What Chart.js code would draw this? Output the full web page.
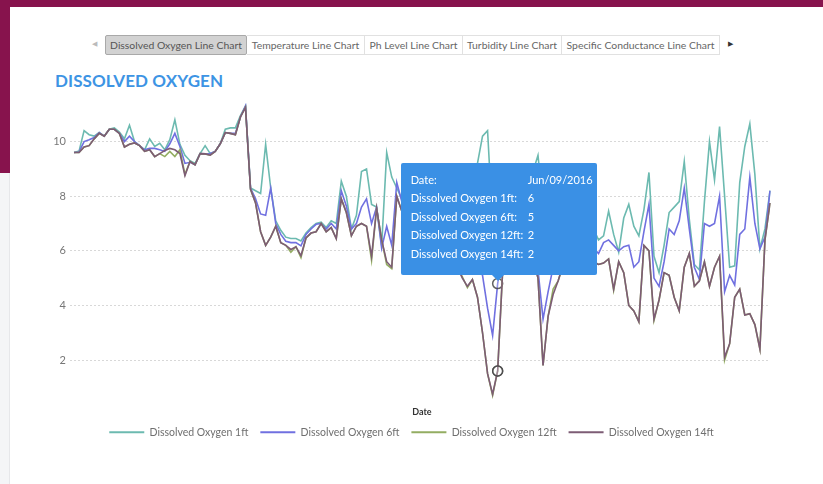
<!DOCTYPE html>
<html><head><meta charset="utf-8">
<script src="https://cdn.jsdelivr.net/npm/chart.js@4.4.0/dist/chart.umd.min.js"></script>
<style>
html,body{margin:0;padding:0;width:823px;height:484px;overflow:hidden;background:#fff;font-family:Lato,"Open Sans",sans-serif;}
#topband{position:absolute;left:0;top:0;width:823px;height:7px;background:#87134d;}
#leftband{position:absolute;left:0;top:0;width:10px;height:173px;background:#87134d;}
#leftgray{position:absolute;left:0;top:173px;width:10px;height:311px;background:#f4f5f7;border-right:1px solid #e6e7ea;box-sizing:border-box;}
#tabs{position:absolute;left:105px;top:35px;height:20px;display:flex;}
.tab{box-sizing:border-box;height:20px;line-height:18px;font-size:10.4px;color:#666;text-align:center;border:1px solid #e1e1e1;border-left:none;background:#fff;white-space:nowrap;}
.tab.active{background:#d2d2d2;border:1px solid #a9a9a9;border-radius:2px;color:#555;}
#larr{position:absolute;left:92px;top:39px;font-size:7px;color:#bbb;}
#rarr{position:absolute;left:728px;top:39px;font-size:7px;color:#333;}
#title{position:absolute;left:55px;top:70px;font-size:17px;font-weight:bold;color:#3d94e4;letter-spacing:0.1px;}
#wrap{position:absolute;left:0;top:90px;width:823px;height:358px;}
#tip{position:absolute;background:#3a90e5;color:#fff;font-size:11px;box-sizing:border-box;padding:8px 0 0 10px;border-radius:2px;}
#tip .row{height:18.5px;line-height:18.5px;position:relative;white-space:nowrap;}
#tip .v{position:absolute;left:117px;top:0;}
#caret{position:absolute;width:0;height:0;border-left:6px solid transparent;border-right:6px solid transparent;border-top:6px solid #3a90e5;}
</style></head>
<body>
<div id="topband"></div><div id="leftband"></div><div id="leftgray"></div>
<div id="larr">&#9664;</div>
<div id="tabs"></div>
<div id="rarr">&#9654;</div>
<div id="title">DISSOLVED OXYGEN</div>
<div id="wrap"><canvas id="c"></canvas></div>
<div id="tip"></div><div id="caret"></div>
<script>
const tabNames = ["Dissolved Oxygen Line Chart","Temperature Line Chart","Ph Level Line Chart","Turbidity Line Chart","Specific Conductance Line Chart"];
const tabWidths = [142,118,98,99,158];
const seriesNames = ["Dissolved Oxygen 1ft","Dissolved Oxygen 6ft","Dissolved Oxygen 12ft","Dissolved Oxygen 14ft"];
const seriesColors = ["#6cbab0","#7070e0","#93ad62","#7d5c75"];
const yTicks = [2,4,6,8,10];
const startDate = "2016-03-17";
const hoverIndex = 84;

const do1ft = [
9.6,9.65,10.4,10.25,10.2,10.33,10.2,10.45,10.5,10.35,
10.1,10.6,10.0,9.85,9.7,10.1,9.82,9.94,9.7,10.07,
10.8,9.9,9.5,9.3,9.2,9.56,9.85,9.56,9.64,9.92,
10.45,10.5,10.5,10.95,11.3,8.3,8.2,8.1,9.9,8.3,
7.1,6.75,6.5,6.45,6.45,6.36,6.65,6.85,7.0,7.05,
6.85,7.1,7.0,8.55,8.0,6.8,7.3,8.9,9.0,7.7,
7.6,6.2,9.6,8.7,8.3,7.9,7.4,7.0,7.6,6.8,
7.2,8.0,7.1,6.7,7.3,6.9,6.5,6.6,6.3,7.5,
9.2,10.2,10.4,7.0,6.0,6.6,7.8,8.4,7.6,7.0,
7.9,8.9,9.5,7.6,6.6,6.9,6.4,6.8,7.2,6.9,
7.4,7.0,6.6,6.8,6.4,6.55,7.45,6.6,5.95,7.2,
7.7,6.9,6.55,7.5,8.87,5.8,5.2,6.2,7.4,7.6,
7.8,9.27,7.15,5.5,5.3,7.8,10.0,8.6,10.55,8.0,
5.4,5.45,8.5,9.82,10.65,8.8,6.07,6.8,8.2];
const do6ft = [
9.6,9.62,10.0,10.07,10.15,10.33,10.2,10.45,10.45,10.3,
10.0,10.2,10.0,9.85,9.7,9.75,9.75,9.7,9.64,9.92,
10.3,9.82,9.2,9.24,9.15,9.56,9.55,9.56,9.64,9.92,
10.33,10.3,10.3,10.9,11.3,8.3,7.9,7.35,7.3,8.3,
7.0,6.6,6.35,6.3,6.3,6.18,6.6,6.8,6.97,7.0,
6.8,7.0,6.8,8.2,7.64,6.8,7.0,7.6,7.9,7.0,
7.6,6.1,6.9,6.2,8.5,7.8,7.2,6.8,7.3,6.5,
6.9,7.5,6.6,6.3,6.8,6.2,6.0,5.6,5.5,5.7,
5.4,5.1,3.9,2.9,4.8,5.9,6.6,7.1,6.5,6.2,
6.8,6.4,5.3,3.5,4.5,5.4,5.8,6.0,6.3,6.1,
6.4,6.2,6.0,6.1,5.9,6.3,6.4,6.2,6.0,6.15,
6.2,5.4,5.6,6.7,7.7,5.0,4.7,5.6,6.8,6.6,
7.1,8.3,6.8,5.4,4.95,7.0,6.9,7.0,8.0,4.5,
5.1,4.75,6.6,6.8,8.7,7.0,6.07,6.5,8.2];
const do12ft = [
9.6,9.6,9.8,9.85,10.1,10.3,10.2,10.45,10.45,10.3,
9.8,9.9,9.95,9.85,9.64,9.7,9.45,9.56,9.45,9.64,
9.45,9.7,8.8,9.27,9.15,9.56,9.55,9.5,9.64,9.92,
10.33,10.3,10.25,10.9,11.25,8.25,7.75,6.7,6.2,6.5,
6.9,6.3,6.2,5.95,6.15,5.75,6.47,6.65,6.7,7.0,
6.7,6.85,6.45,7.9,7.4,6.55,6.9,7.0,6.9,5.65,
7.55,6.4,5.5,5.35,8.0,7.45,6.9,6.5,7.0,6.1,
6.6,7.2,6.2,5.8,6.4,5.6,5.4,5.05,4.65,4.95,
4.3,3.0,1.5,0.7,1.6,5.3,6.0,6.4,5.9,5.6,
6.1,5.7,5.0,1.8,3.6,4.6,4.9,5.5,5.8,5.4,
5.7,5.5,5.3,5.6,5.5,5.55,5.7,4.55,5.6,5.2,
4.0,3.8,3.4,6.2,6.0,3.45,4.2,5.2,5.1,4.3,
3.8,5.4,5.9,4.7,4.9,5.6,4.7,5.4,5.8,2.0,
2.6,4.3,4.6,3.65,3.7,3.3,2.4,6.4,7.75];
const do14ft = [
9.6,9.6,9.8,9.85,10.1,10.3,10.2,10.45,10.45,10.3,
9.8,9.9,9.95,9.85,9.64,9.7,9.45,9.56,9.67,9.75,
9.7,9.56,8.75,9.27,9.15,9.56,9.55,9.5,9.64,9.92,
10.33,10.3,10.25,10.9,11.25,8.25,7.75,6.7,6.2,6.5,
6.9,6.3,6.2,6.05,6.15,5.82,6.47,6.65,6.7,7.0,
6.7,6.85,6.45,7.9,7.4,6.55,6.9,7.0,6.9,5.8,
7.55,6.4,5.6,5.4,8.0,7.45,6.9,6.5,7.0,6.1,
6.6,7.2,6.2,5.8,6.4,5.6,5.4,5.0,4.7,4.95,
4.3,3.0,1.5,0.75,1.6,5.3,6.0,6.4,5.9,5.6,
6.1,5.7,5.0,1.8,3.6,4.4,4.9,5.5,5.8,5.4,
5.7,5.5,5.3,5.6,5.5,5.55,5.7,4.6,5.6,5.2,
4.0,3.8,3.4,6.2,6.0,3.5,4.2,5.2,5.1,4.3,
3.8,5.4,5.9,4.7,4.9,5.6,4.7,5.4,5.8,2.1,
2.6,4.3,4.6,3.65,3.7,3.3,2.4,6.4,7.75];
const seriesData = [do1ft, do6ft, do12ft, do14ft];

// date category labels (one per sample)
const monthNames = ["Jan","Feb","Mar","Apr","May","Jun","Jul","Aug","Sep","Oct","Nov","Dec"];
const labels = [];
{
  const d0 = new Date(startDate + "T00:00:00");
  for (let i = 0; i < do1ft.length; i++) {
    const d = new Date(d0.getFullYear(), d0.getMonth(), d0.getDate() + i);
    labels.push(monthNames[d.getMonth()] + "/" + String(d.getDate()).padStart(2,"0") + "/" + d.getFullYear());
  }
}

// tabs
const tabsEl = document.getElementById("tabs");
tabNames.forEach((t,i)=>{
  const el = document.createElement("div");
  el.className = "tab" + (i===0 ? " active" : "");
  el.style.width = tabWidths[i] + "px";
  el.textContent = t;
  tabsEl.appendChild(el);
});

const FONT = "Lato";
const chart = new Chart(document.getElementById("c"), {
  type: "line",
  data: {
    labels: labels,
    datasets: seriesNames.map((n,i)=>({
      label: n,
      data: seriesData[i],
      borderColor: seriesColors[i],
      backgroundColor: seriesColors[i],
      borderWidth: 1.6,
      pointRadius: 0,
      pointHoverRadius: 5,
      pointHoverBorderWidth: 1.5,
      pointHoverBorderColor: "rgba(70,70,70,0.85)",
      pointHoverBackgroundColor: "rgba(255,255,255,0.25)",
      tension: 0,
      fill: false,
      order: 4 - i
    }))
  },
  options: {
    responsive: true,
    maintainAspectRatio: false,
    animation: false,
    events: [],
    layout: { padding: { top: 8.75, right: 53, left: 53, bottom: 0.5 } },
    scales: {
      x: {
        type: "category",
        ticks: { display: false },
        grid: { display: false, drawTicks: false },
        border: { display: false },
        title: { display: true, text: "Date", color: "#333", padding: { top: 0, bottom: -2 },
                 font: { family: FONT, size: 9, weight: "bold", lineHeight: 1 } },
        afterFit: s => { s.height = 11.25; }
      },
      y: {
        min: 0.4, max: 11.5,
        afterBuildTicks: s => { s.ticks = yTicks.map(v => ({ value: v })); },
        afterFit: s => { s.width = 21; },
        ticks: { color: "#777", padding: 4, font: { family: FONT, size: 11 } },
        grid: { color: "#d8d8d8", lineWidth: 1, tickLength: 4, tickColor: "#d8d8d8", tickBorderDash: [2,2] },
        border: { display: false, dash: [2,2] }
      }
    },
    plugins: {
      tooltip: { enabled: false },
      legend: {
        position: "bottom",
        labels: {
          boxWidth: 35, boxHeight: 2, padding: 12, color: "#6f6f6f",
          font: { family: FONT, size: 10.5 },
          sort: (a,b) => a.datasetIndex - b.datasetIndex,
          generateLabels(ch) {
            const items = Chart.defaults.plugins.legend.labels.generateLabels(ch);
            items.forEach(it => { it.fillStyle = seriesColors[it.datasetIndex]; it.lineWidth = 0; });
            return items;
          }
        }
      }
    }
  }
});

chart.setActiveElements(seriesNames.map((n,i)=>({ datasetIndex: i, index: hoverIndex })));
chart.update();

// tooltip box built from the library's point positions
(function(){
  const wrap = document.getElementById("wrap");
  const ox = wrap.offsetLeft, oy = wrap.offsetTop;
  const p = chart.getDatasetMeta(1).data[hoverIndex];
  const cx = ox + p.x, cy = oy + p.y;
  const w = 196, h = 112;
  const bottom = cy - 9;
  const tip = document.getElementById("tip");
  tip.style.left = (cx - w/2 + 1) + "px";
  tip.style.top = (bottom - h) + "px";
  tip.style.width = w + "px";
  tip.style.height = h + "px";
  const rows = [["Date:", labels[hoverIndex]]].concat(seriesNames.map((n,i)=>[n + ":", String(Math.round(seriesData[i][hoverIndex]))]));
  tip.innerHTML = rows.map(r => '<div class="row"><span>' + r[0] + '</span><span class="v">' + r[1] + '</span></div>').join("");
  const caret = document.getElementById("caret");
  caret.style.left = (cx - 6) + "px";
  caret.style.top = bottom + "px";
})();
</script>
</body></html>
